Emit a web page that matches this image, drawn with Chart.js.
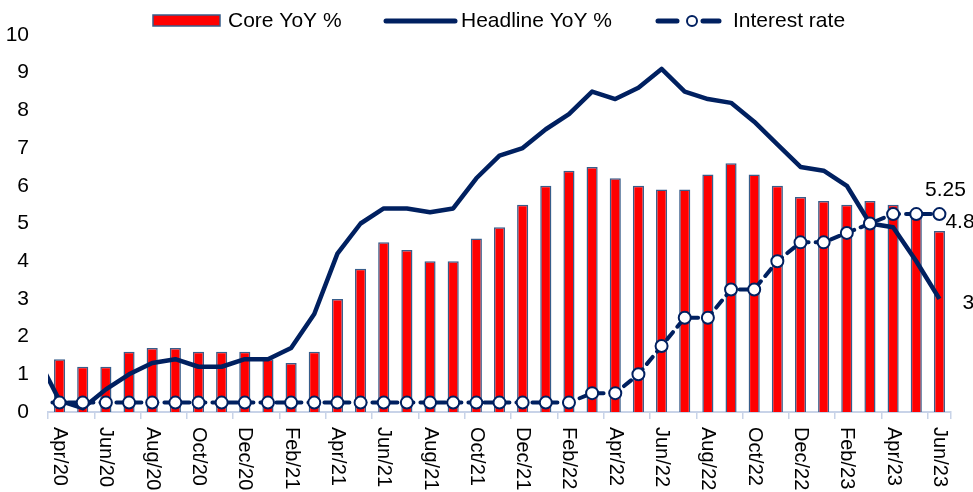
<!DOCTYPE html>
<html>
<head>
<meta charset="utf-8">
<script src="https://cdn.jsdelivr.net/npm/chart.js@4.4.1/dist/chart.umd.min.js"></script>
<style>
  html, body { margin: 0; padding: 0; background: #fff; }
  #wrap { width: 973px; height: 492px; }
</style>
</head>
<body>
<div id="wrap"><canvas id="grafico" width="973" height="492"></canvas></div>
<script>
// Mar/20 is only there so the lines run in from the left edge, like the original
var meses = ['Mar/20', 'Apr/20', 'May/20', 'Jun/20', 'Jul/20', 'Aug/20', 'Sep/20', 'Oct/20', 'Nov/20', 'Dec/20',
    'Jan/21', 'Feb/21', 'Mar/21', 'Apr/21', 'May/21', 'Jun/21', 'Jul/21', 'Aug/21', 'Sep/21', 'Oct/21', 'Nov/21', 'Dec/21',
    'Jan/22', 'Feb/22', 'Mar/22', 'Apr/22', 'May/22', 'Jun/22', 'Jul/22', 'Aug/22', 'Sep/22', 'Oct/22', 'Nov/22', 'Dec/22',
    'Jan/23', 'Feb/23', 'Mar/23', 'Apr/23', 'May/23', 'Jun/23'];

var coreYoY = [null, 1.4, 1.2, 1.2, 1.6, 1.7, 1.7, 1.6, 1.6, 1.6,
    1.4, 1.3, 1.6, 3.0, 3.8, 4.5, 4.3, 4.0, 4.0, 4.6, 4.9, 5.5,
    6.0, 6.4, 6.5, 6.2, 6.0, 5.9, 5.9, 6.3, 6.6, 6.3, 6.0, 5.7,
    5.6, 5.5, 5.6, 5.5, 5.3, 4.8];

var headlineYoY = [1.5, 0.3, 0.1, 0.6, 1.0, 1.3, 1.4, 1.2, 1.2, 1.4,
    1.4, 1.7, 2.6, 4.2, 5.0, 5.4, 5.4, 5.3, 5.4, 6.2, 6.8, 7.0,
    7.5, 7.9, 8.5, 8.3, 8.6, 9.1, 8.5, 8.3, 8.2, 7.7, 7.1, 6.5,
    6.4, 6.0, 5.0, 4.9, 4.0, 3.0];

var juros = [0.25, 0.25, 0.25, 0.25, 0.25, 0.25, 0.25, 0.25, 0.25, 0.25,
    0.25, 0.25, 0.25, 0.25, 0.25, 0.25, 0.25, 0.25, 0.25, 0.25, 0.25, 0.25,
    0.25, 0.25, 0.5, 0.5, 1.0, 1.75, 2.5, 2.5, 3.25, 3.25, 4.0, 4.5,
    4.5, 4.75, 5.0, 5.25, 5.25, 5.25];

var ticksY = [0, 1, 2, 3, 4, 5, 6, 7, 8, 9, 10];

var azul = '#002060';
var vermelho = '#ff0000';
var bordaBarra = '#385d8a';
var corEixo = '#c8d3e8';
var fonte = '"Liberation Sans", Arial, sans-serif';

// legenda desenhada a mao (a do Chart.js nao faz linha com marcador)
var pluginLegenda = {
    id: 'legenda',
    afterDraw: function (chart) {
        var ctx = chart.ctx;
        ctx.save();
        ctx.font = '21px ' + fonte;
        ctx.fillStyle = '#000';
        ctx.textBaseline = 'middle';

        ctx.fillStyle = vermelho;
        ctx.fillRect(153, 15, 67, 11);
        ctx.strokeStyle = bordaBarra;
        ctx.lineWidth = 1.5;
        ctx.strokeRect(153, 15, 67, 11);
        ctx.fillStyle = '#000';
        ctx.fillText('Core YoY %', 228, 21);

        ctx.strokeStyle = azul;
        ctx.lineWidth = 5;
        ctx.lineCap = 'round';
        ctx.beginPath();
        ctx.moveTo(386, 21);
        ctx.lineTo(455, 21);
        ctx.stroke();
        ctx.fillText('Headline YoY %', 461, 21);

        ctx.beginPath();
        ctx.moveTo(658, 21);
        ctx.lineTo(677, 21);
        ctx.moveTo(703, 21);
        ctx.lineTo(719, 21);
        ctx.stroke();
        ctx.beginPath();
        ctx.arc(692, 21, 5, 0, Math.PI * 2);
        ctx.fillStyle = '#fff';
        ctx.fill();
        ctx.lineWidth = 2;
        ctx.stroke();
        ctx.fillStyle = '#000';
        ctx.fillText('Interest rate', 733, 21);
        ctx.restore();
    }
};

// rotulos do eixo x girados no sentido horario (como no Excel)
var pluginRotulosX = {
    id: 'rotulosX',
    afterDraw: function (chart) {
        var eixo = chart.scales.x;
        var ctx = chart.ctx;
        ctx.save();
        ctx.font = '20px ' + fonte;
        ctx.fillStyle = '#000';
        ctx.textAlign = 'left';
        ctx.textBaseline = 'middle';
        eixo.ticks.forEach(function (t, i) {
            if (i % 2 !== 0) return;
            var x = eixo.getPixelForTick(i);
            ctx.save();
            ctx.translate(x, eixo.top + 15);
            ctx.rotate(Math.PI / 2);
            ctx.fillText(meses[t.value], 0, 0);
            ctx.restore();
        });
        ctx.restore();
    }
};

// valores do ultimo mes
var pluginUltimos = {
    id: 'ultimos',
    afterDatasetsDraw: function (chart) {
        var ctx = chart.ctx;
        var n = meses.length - 1;
        var barra = chart.getDatasetMeta(0).data[n];
        var linha = chart.getDatasetMeta(1).data[n];
        var taxa = chart.getDatasetMeta(2).data[n];
        ctx.save();
        ctx.font = '21px ' + fonte;
        ctx.fillStyle = '#000';
        ctx.textBaseline = 'middle';
        ctx.textAlign = 'center';
        ctx.fillText(String(juros[n]), taxa.x + 6, taxa.y - 24);
        ctx.textAlign = 'left';
        ctx.fillText(String(coreYoY[n]), barra.x + 6, barra.y - 9);
        ctx.fillText(String(headlineYoY[n]), linha.x + 23, linha.y + 4);
        ctx.restore();
    }
};

var dados = {
    labels: meses,
    datasets: [{
        type: 'bar',
        label: 'Core YoY %',
        data: coreYoY,
        backgroundColor: vermelho,
        borderColor: bordaBarra,
        borderWidth: 1.5,
        barPercentage: 0.48,
        categoryPercentage: 1,
        order: 3
    }, {
        type: 'line',
        label: 'Headline YoY %',
        data: headlineYoY,
        borderColor: azul,
        borderWidth: 4.5,
        borderJoinStyle: 'round',
        pointRadius: 0,
        tension: 0,
        fill: false,
        order: 2
    }, {
        type: 'line',
        label: 'Interest rate',
        data: juros,
        borderColor: azul,
        borderWidth: 4,
        borderDash: [9, 7],
        borderCapStyle: 'round',
        pointRadius: 6,
        pointBorderWidth: 2,
        pointBackgroundColor: '#fff',
        pointBorderColor: azul,
        tension: 0,
        fill: false,
        order: 1
    }]
};

const config = {
    type: 'bar',
    data: dados,
    options: {
        responsive: false,
        animation: false,
        layout: { padding: { top: 35, right: 22, left: 0, bottom: 0 } },
        plugins: {
            legend: { display: false },
            tooltip: { enabled: false }
        },
        scales: {
            x: {
                min: 'Apr/20',
                offset: true,
                afterFit: function (s) { s.height = 80; },
                ticks: { display: false, autoSkip: false },
                grid: {
                    display: true,
                    drawOnChartArea: false,
                    drawTicks: true,
                    tickLength: 7,
                    offset: true,
                    lineWidth: 1.5,
                    color: function (c) {
                        return (c.index === undefined || c.index % 2 === 0) ? corEixo : 'rgba(0,0,0,0)';
                    }
                },
                border: { display: true, color: corEixo, width: 2 }
            },
            y: {
                min: 0,
                max: 10,
                afterFit: function (s) { s.width = 48; },
                afterBuildTicks: function (s) {
                    s.ticks = ticksY.map(function (v) { return { value: v }; });
                },
                ticks: {
                    padding: 19,
                    color: '#000',
                    font: { family: fonte, size: 21 }
                },
                grid: { display: false, drawTicks: false },
                border: { display: false }
            }
        }
    },
    plugins: [pluginLegenda, pluginRotulosX, pluginUltimos]
};

const cof = document.getElementById('grafico').getContext('2d');
window.myChart = new Chart(cof, config);
</script>
</body>
</html>
